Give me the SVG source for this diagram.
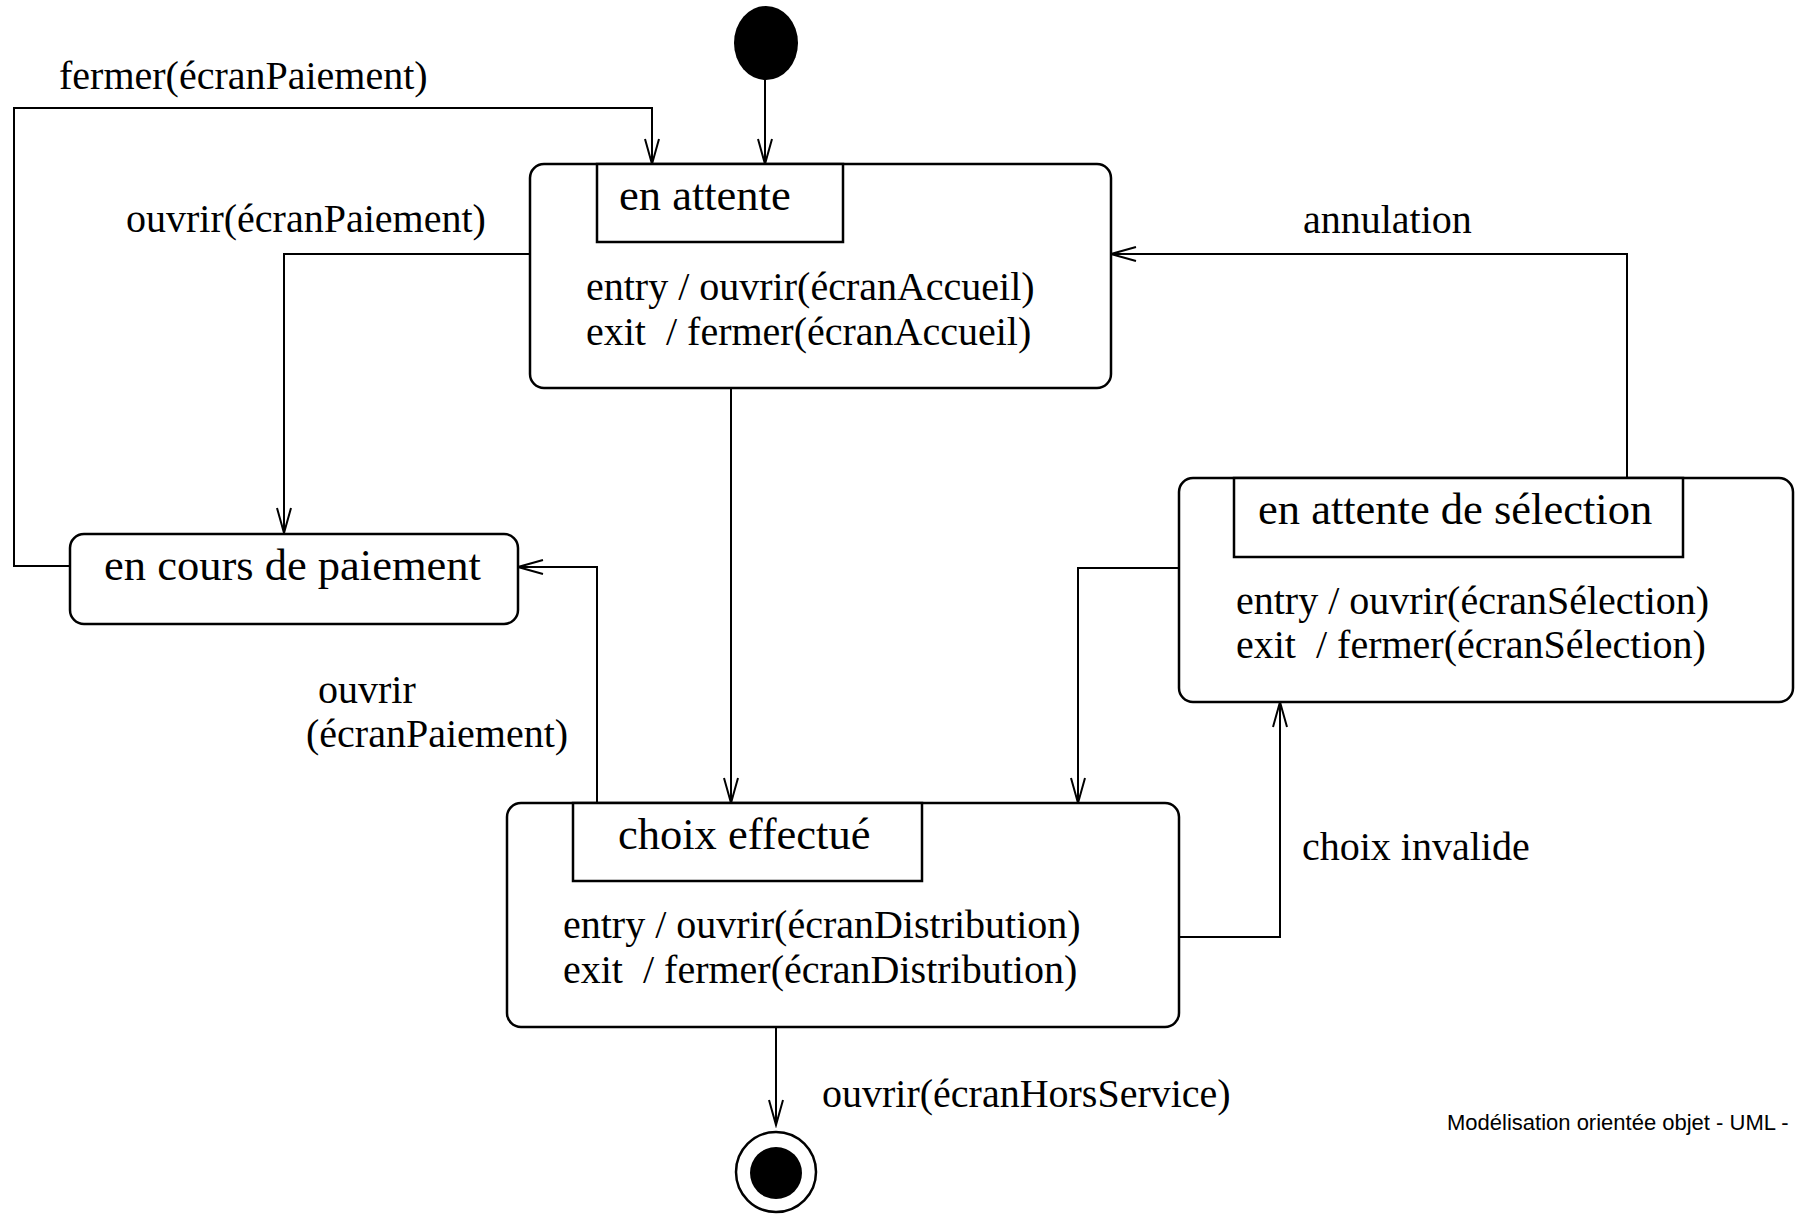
<svg xmlns="http://www.w3.org/2000/svg" width="1796" height="1217" viewBox="0 0 1796 1217">
<style>
.n{fill:#fff;stroke:#000;stroke-width:2.5}
.c{fill:none;stroke:#000;stroke-width:2}
.t{font-family:"Liberation Serif","Times New Roman",serif;font-size:40px;fill:#000;white-space:pre}
.h{font-family:"Liberation Serif","Times New Roman",serif;font-size:44.5px;fill:#000}
.f{font-family:"Liberation Sans",Arial,sans-serif;font-size:22px;fill:#000}
</style>
<defs>
<marker id="a" markerUnits="userSpaceOnUse" viewBox="-27 -9 30 18" refX="0" refY="0" markerWidth="30" markerHeight="18" orient="auto">
<path d="M-25,-7 L0,0 L-25,7" fill="none" stroke="#000" stroke-width="2"/>
</marker>
</defs>
<rect width="1796" height="1217" fill="#fff"/>
<g id="connectors">
<path class="c" d="M765,80 V164" marker-end="url(#a)"/>
<path class="c" d="M70,566 H14 V108 H652 V164" marker-end="url(#a)"/>
<path class="c" d="M530,254 H284 V533" marker-end="url(#a)"/>
<path class="c" d="M731,388 V803" marker-end="url(#a)"/>
<path class="c" d="M1627,478 V254 H1111" marker-end="url(#a)"/>
<path class="c" d="M597,803 V567 H518" marker-end="url(#a)"/>
<path class="c" d="M1179,568 H1078 V803" marker-end="url(#a)"/>
<path class="c" d="M1179,937 H1280 V702" marker-end="url(#a)"/>
<path class="c" d="M776,1027 V1125" marker-end="url(#a)"/>
</g>
<g id="labels">
<text class="t" x="59" y="89">fermer(écranPaiement)</text>
<text class="t" x="126" y="232">ouvrir(écranPaiement)</text>
<text class="t" x="1303" y="233">annulation</text>
<text class="t" x="318" y="703">ouvrir</text>
<text class="t" x="306" y="747">(écranPaiement)</text>
<text class="t" x="1302" y="860">choix invalide</text>
<text class="t" x="822" y="1107">ouvrir(écranHorsService)</text>
</g>
<g id="initial">
<ellipse cx="766" cy="43" rx="32" ry="37" fill="#000"/>
</g>
<g id="en-attente">
<rect class="n" x="530" y="164" width="581" height="224" rx="14"/>
<rect class="n" x="597" y="164" width="246" height="78"/>
<text class="h" x="619" y="210">en attente</text>
<text class="t" x="586" y="300">entry / ouvrir(écranAccueil)</text>
<text class="t" x="586" y="345">exit  / fermer(écranAccueil)</text>
</g>
<g id="en-cours-de-paiement">
<rect class="n" x="70" y="534" width="448" height="90" rx="14"/>
<text class="h" x="104" y="580">en cours de paiement</text>
</g>
<g id="en-attente-de-selection">
<rect class="n" x="1179" y="478" width="614" height="224" rx="14"/>
<rect class="n" x="1234" y="478" width="449" height="79"/>
<text class="h" x="1258" y="524">en attente de sélection</text>
<text class="t" x="1236" y="614">entry / ouvrir(écranSélection)</text>
<text class="t" x="1236" y="658">exit  / fermer(écranSélection)</text>
</g>
<g id="choix-effectue">
<rect class="n" x="507" y="803" width="672" height="224" rx="14"/>
<rect class="n" x="573" y="803" width="349" height="78"/>
<text class="h" x="618" y="849">choix effectué</text>
<text class="t" x="563" y="938">entry / ouvrir(écranDistribution)</text>
<text class="t" x="563" y="983">exit  / fermer(écranDistribution)</text>
</g>
<g id="final">
<circle cx="776" cy="1172" r="40" fill="#fff" stroke="#000" stroke-width="2.5"/>
<circle cx="776" cy="1173" r="26" fill="#000"/>
</g>
<text class="f" x="1447" y="1130">Modélisation orientée objet - UML -</text>
</svg>
